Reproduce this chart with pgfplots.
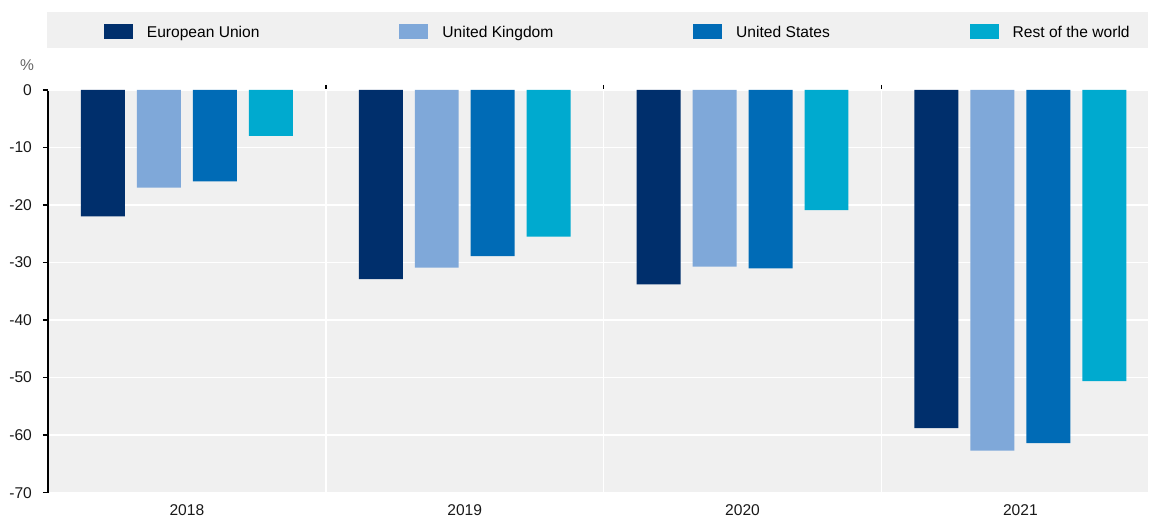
\documentclass[border=0pt]{standalone}
\usepackage{fontspec}
\setmainfont{Liberation Sans}
\usepackage{pgfplots}
\pgfplotsset{compat=1.18}
\definecolor{cEU}{RGB}{0,47,108}
\definecolor{cUK}{RGB}{127,168,217}
\definecolor{cUS}{RGB}{0,107,182}
\definecolor{cRW}{RGB}{0,170,207}
\definecolor{bg}{RGB}{240,240,240}
\begin{document}
\begin{tikzpicture}
\path (0,0) rectangle (574.5pt,258pt);
\fill[bg] (23.5pt,234pt) rectangle (574.5pt,252pt);
\begin{axis}[
  at={(24pt,11.5pt)}, anchor=south west,
  width=550.5pt, height=201.5pt, scale only axis,
  xmin=-0.5, xmax=3.46, ymin=-70, ymax=0,
  ybar=6pt, bar width=22pt,
  axis background/.style={fill=bg},
  axis y line*=left,
  y axis line style={black, line width=1pt, -},
  x axis line style={draw=none},
  xtick={0,1,2,3},
  xticklabels={2018,2019,2020,2021},
  major x tick style={draw=none},
  minor xtick={0.5,1.5,2.5},
  xminorgrids=true,
  minor x grid style={white, line width=0.8pt},
  minor x tick style={black, line width=0.8pt},
  xtick pos=upper, xticklabel pos=lower,
  ytick={-70,-60,...,0},
  ymajorgrids=true,
  major y grid style={white, line width=0.8pt},
  ytick style={black, line width=0.8pt},
  tick align=outside,
  major tick length=2.5pt, minor tick length=2.5pt,
  extra y ticks={0}, extra y tick labels={},
  extra y tick style={grid=major, major grid style={black, line width=1pt}},
  /pgf/number format/assume math mode=true,
  every tick label/.append style={font=\fontsize{7.8}{9}\selectfont, text=black!90},
  yticklabel style={xshift=-2pt},
  ylabel={\%},
  ylabel style={rotate=-90, at={(axis description cs:0,1)}, anchor=center, xshift=-10.5pt, yshift=12.5pt, font=\fontsize{7.8}{9}\selectfont, text=black!60},
  legend columns=4,
  legend style={at={(axis description cs:0,1)}, anchor=west, xshift=28pt, yshift=29pt,
    draw=none, fill=none, inner sep=0pt, outer sep=0pt,
    nodes={inner sep=0pt, text depth=0pt},
    font=\fontsize{7.8}{9}\selectfont,
    /tikz/every odd column/.append style={column sep=7pt},
    /tikz/every even column/.append style={column sep=70pt}},
  legend image code/.code={\fill[#1] (0pt,-3.75pt) rectangle (14.5pt,3.75pt);},
]
\addplot[fill=cEU, draw=none] coordinates {(0,-22.0) (1,-32.9) (2,-33.8) (3,-58.8)};
\addplot[fill=cUK, draw=none] coordinates {(0,-17.0) (1,-30.9) (2,-30.7) (3,-62.7)};
\addplot[fill=cUS, draw=none] coordinates {(0,-15.9) (1,-28.9) (2,-31.0) (3,-61.4)};
\addplot[fill=cRW, draw=none] coordinates {(0,-8.0) (1,-25.5) (2,-20.9) (3,-50.6)};
\legend{European Union, United Kingdom, United States, Rest of the world}
\end{axis}
\end{tikzpicture}
\end{document}
